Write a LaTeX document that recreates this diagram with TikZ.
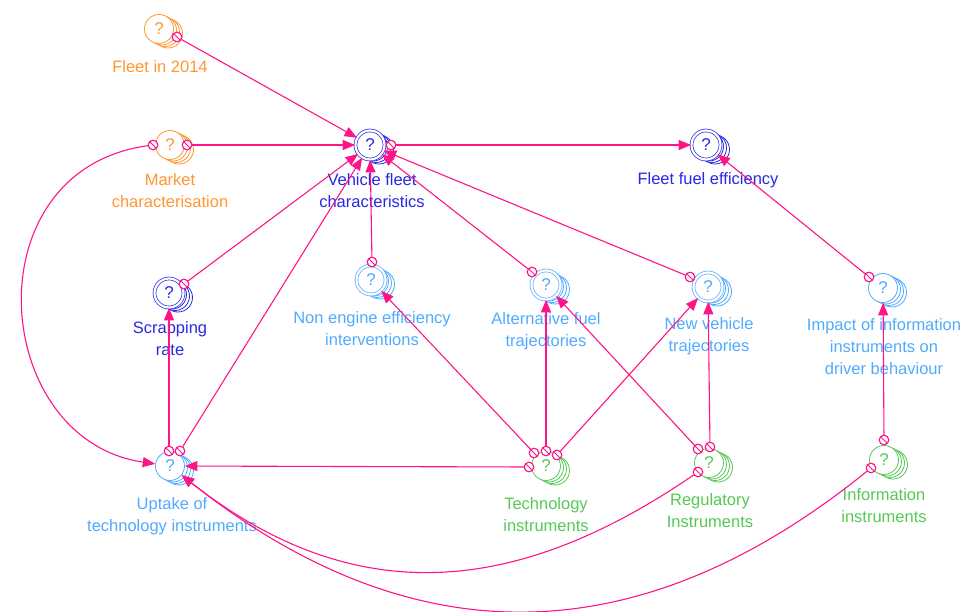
\documentclass[tikz,border=0pt]{standalone}
\usepackage{fontspec}
\setmainfont{Liberation Sans}
\usetikzlibrary{arrows.meta,calc}
\definecolor{pinkc}{RGB}{255,20,135}
\definecolor{orangec}{RGB}{255,150,50}
\definecolor{dbluec}{RGB}{40,40,230}
\definecolor{lbluec}{RGB}{80,170,255}
\definecolor{greenc}{RGB}{85,200,85}
\tikzset{
  varnode/.style={circle, fill=white, minimum size=29pt, inner sep=0pt, line width=0.8pt,
    font=\fontsize{17}{17}\selectfont},
  dbl/.style={double=white, double distance=2.2pt, line width=0.7pt},
  lbl/.style={align=center, font=\fontsize{16.5}{22}\selectfont, inner sep=0pt},
  port/.style={circle, draw=pinkc, fill=white, line width=1pt, minimum size=9.5pt, inner sep=0pt,
    path picture={\draw[pinkc, line width=0.8pt] (path picture bounding box.north west) -- (path picture bounding box.south east);}},
  conn/.style={draw=pinkc, line width=1.1pt, -{Triangle[length=12.5pt,width=10pt]}}
}
\newcommand\mkvar[4]{%
  \foreach \k in {3,2,1}{\draw[#3, line width=0.8pt, fill=white] ($#2+(3*\k,1.5*\k)$) circle[radius=14.5pt];}
  \node[varnode, draw=#3, text=#3, #4] (#1) at #2 {?};
}
\begin{document}
\begin{tikzpicture}[x=1pt,y=-1pt]
\useasboundingbox (0,0) rectangle (964,612);

% variables
\mkvar{f14}{(159,29)}{orangec}{}
\mkvar{mkt}{(170,145)}{orangec}{}
\mkvar{vfc}{(370,145)}{dbluec}{dbl}
\mkvar{ffe}{(706,145)}{dbluec}{dbl}
\mkvar{scr}{(169,293)}{dbluec}{dbl}
\mkvar{nee}{(371,280)}{lbluec}{dbl}
\mkvar{aft}{(546,285)}{lbluec}{dbl}
\mkvar{nvt}{(708,287)}{lbluec}{dbl}
\mkvar{imp}{(883,288)}{lbluec}{}
\mkvar{upt}{(170,466)}{lbluec}{}
\mkvar{tec}{(546,466)}{greenc}{}
\mkvar{reg}{(709,463)}{greenc}{}
\mkvar{inf}{(884,460)}{greenc}{}

% labels
\node[lbl, text=orangec] (f14-l) at (160,67) {Fleet in 2014};
\node[lbl, text=orangec] (mkt-l) at (170,191) {Market\\characterisation};
\node[lbl, text=dbluec] (vfc-l) at (372,191) {Vehicle fleet\\characteristics};
\node[lbl, text=dbluec] (ffe-l) at (708,180) {Fleet fuel efficiency};
\node[lbl, text=dbluec] (scr-l) at (170,339) {Scrapping\\rate};
\node[lbl, text=lbluec] (nee-l) at (372,329) {Non engine efficiency\\interventions};
\node[lbl, text=lbluec] (aft-l) at (546,331) {Alternative fuel\\trajectories};
\node[lbl, text=lbluec] (nvt-l) at (709,336) {New vehicle\\trajectories};
\node[lbl, text=lbluec] (imp-l) at (884,347) {Impact of information\\instruments on\\driver behaviour};
\node[lbl, text=lbluec] (upt-l) at (172,516) {Uptake of\\technology instruments};
\node[lbl, text=greenc] (tec-l) at (546,515) {Technology\\instruments};
\node[lbl, text=greenc] (reg-l) at (710,511) {Regulatory\\Instruments};
\node[lbl, text=greenc] (inf-l) at (884,506) {Information\\instruments};

% ports
\node[port] (pf14) at (177,37) {};
\node[port] (pmk1) at (187,145) {};
\node[port] (pmk2) at (153,145) {};
\node[port] (pvf) at (391,145) {};
\node[port] (pimp) at (869,277) {};
\node[port] (pscr) at (184,284) {};
\node[port] (pup1) at (169,451) {};
\node[port] (pup2) at (180,451) {};
\node[port] (pnee) at (372,262) {};
\node[port] (paft) at (532,272) {};
\node[port] (pnvt) at (690,277) {};
\node[port] (ptc1) at (529,467) {};
\node[port] (ptc2) at (534,453) {};
\node[port] (ptc3) at (546,451) {};
\node[port] (ptc4) at (557,455) {};
\node[port] (prg1) at (698,449) {};
\node[port] (prg2) at (710,447) {};
\node[port] (prg3) at (698,472) {};
\node[port] (pin1) at (884,440) {};
\node[port] (pin2) at (871,468) {};

% connectors
\draw[conn] (pf14) -- (vfc);
\draw[conn] (pmk1) -- (vfc);
\draw[conn] (pmk2) .. controls (-30,170) and (-10,440) .. (upt);
\draw[conn] (pvf) -- (ffe);
\draw[conn] (pimp) -- (ffe);
\draw[conn] (pscr) -- (vfc);
\draw[conn] (pup1) -- (scr);
\draw[conn] (pup2) -- (vfc);
\draw[conn] (pnee) -- (vfc);
\draw[conn] (paft) -- (vfc);
\draw[conn] (pnvt) -- (vfc);
\draw[conn] (ptc1) -- (upt);
\draw[conn] (ptc2) -- (nee);
\draw[conn] (ptc3) -- (aft);
\draw[conn] (ptc4) -- (nvt);
\draw[conn] (prg1) -- (aft);
\draw[conn] (prg2) -- (nvt);
\draw[conn] (prg3) .. controls (520,594) and (357,613) .. (upt);
\draw[conn] (pin1) -- (imp);
\draw[conn] (pin2) .. controls (604,684) and (376,629) .. (upt);

% redraw ports on top
\foreach \p in {pf14,pmk1,pmk2,pvf,pimp,pscr,pup1,pup2,pnee,paft,pnvt,ptc1,ptc2,ptc3,ptc4,prg1,prg2,prg3,pin1,pin2}{
  \node[port] at (\p) {};
}
\end{tikzpicture}
\end{document}
